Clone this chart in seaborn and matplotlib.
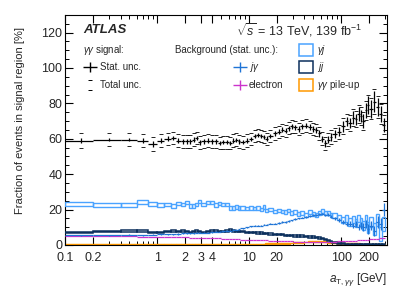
import numpy as np
import matplotlib
matplotlib.use("Agg")
import matplotlib.pyplot as plt
from matplotlib.patches import Rectangle
from matplotlib.ticker import MultipleLocator, LogLocator, FixedLocator, NullFormatter
import seaborn as sns

# bin edges in a_T,gg [GeV]
edges = [0.1, 0.2, 0.4, 0.6, 0.8, 1.0,
         1.2, 1.4, 1.6, 1.8, 2.0, 2.2, 2.4, 2.6, 2.8, 3.0,
         3.4, 3.8, 4.2, 4.6, 5.0,
         5.5, 6.0, 6.5, 7.0, 7.5, 8.0,
         9, 10,
         11, 12, 13, 14, 15, 16,
         18, 20, 22, 24, 26, 28, 30,
         33, 36,
         40, 44, 48, 52, 56, 60,
         65, 70, 75, 80,
         90, 100,
         110, 120, 130, 140, 150, 160, 170, 180, 190, 200,
         220, 240, 260, 280, 300]

# gamma-gamma signal fraction [%]
signal = [59, 59.5, 59.5, 59, 57,
          59, 60, 60.5, 59, 58.5, 58.5, 58.5, 59.5, 60.5, 58,
          58.5, 59, 58.5, 58.5, 57.5,
          58, 58, 57.5, 59, 59.5, 58.5,
          58, 59,
          60, 61.5, 62, 61.5, 61, 60,
          61.5, 63, 64, 65, 64.5, 66, 67,
          66.5, 65.5,
          67, 67.5, 66.5, 65.5, 65, 63,
          60, 57.5, 59.5, 61,
          62.5, 64,
          67, 70, 69, 72, 71, 74, 73, 70, 76, 79,
          77, 81, 78, 74, 68]
signal_stat = [1.2, 1.0, 1.0, 1.2, 1.5,
               1.3, 1.3, 1.3, 1.3, 1.3, 1.3, 1.3, 1.3, 1.3, 1.3,
               1.2, 1.2, 1.2, 1.2, 1.2,
               1.2, 1.2, 1.2, 1.2, 1.2, 1.2,
               1.2, 1.2,
               1.2, 1.2, 1.2, 1.3, 1.3, 1.3,
               1.3, 1.3, 1.3, 1.4, 1.4, 1.4, 1.4,
               1.5, 1.5,
               1.5, 1.6, 1.6, 1.7, 1.7, 1.8,
               1.8, 1.9, 2.0, 2.0,
               2.2, 2.4,
               3.0, 2.5, 3.0, 3.5, 3.0, 4.0, 3.5, 4.0, 4.5, 5.0,
               5.0, 6.0, 5.0, 4.5, 4.0]
signal_tot = [4.0, 3.8, 3.8, 3.8, 3.8,
              3.5, 3.5, 3.5, 3.5, 3.5, 3.5, 3.5, 3.5, 3.5, 3.5,
              3.5, 3.5, 3.5, 3.5, 3.5,
              3.5, 3.5, 3.5, 3.5, 3.5, 3.5,
              3.5, 3.5,
              3.5, 3.5, 3.5, 3.5, 3.5, 3.5,
              3.5, 3.5, 3.5, 3.5, 3.5, 3.5, 3.5,
              3.5, 3.5,
              3.5, 3.5, 3.5, 3.5, 3.5, 3.5,
              3.6, 3.6, 3.7, 3.7,
              3.8, 4.0,
              4.5, 4.2, 4.5, 5.0, 4.5, 5.2, 5.0, 5.2, 5.6, 6.0,
              6.0, 7.0, 6.0, 5.6, 5.2]

# gamma-jet background (open light-blue boxes)
gj = [23, 22.5, 22.5, 24.5, 23,
      22.5, 23, 22, 23.5, 23, 24, 22, 22, 23, 24.5,
      23, 24, 24, 22.5, 23.5,
      23, 23, 21, 21, 21.5, 21,
      21, 20.5,
      21, 20.5, 21, 20, 21.5, 19.5,
      20, 19, 19.5, 19, 18.5, 19.5, 18,
      18.5, 17.5,
      18, 17, 18.5, 17.5, 17, 18,
      19, 18, 18, 17,
      16.5, 15.5,
      14, 15, 13, 14.5, 12.5, 15, 13, 11, 14, 10,
      13, 9, 14, 6, 12]
gj_stat = [1.2, 1.0, 1.0, 1.1, 1.2,
           1.0, 1.0, 1.0, 1.0, 1.0, 1.0, 1.0, 1.0, 1.0, 1.0,
           1.0, 1.0, 1.0, 1.0, 1.0,
           1.0, 1.0, 1.0, 1.0, 1.0, 1.0,
           1.0, 1.0,
           1.0, 1.0, 1.0, 1.0, 1.0, 1.0,
           1.0, 1.0, 1.0, 1.0, 1.0, 1.0, 1.0,
           1.0, 1.0,
           1.0, 1.0, 1.0, 1.0, 1.0, 1.1,
           1.1, 1.2, 1.2, 1.3,
           1.4, 1.5,
           1.8, 1.8, 2.0, 2.0, 2.2, 2.2, 2.5, 2.5, 2.8, 3.0,
           3.0, 3.5, 3.5, 4.0, 4.0]

# jet-gamma background (blue crosses)
jg = [5.5, 5.5, 5.8, 5.5, 5.8,
      6, 6, 6, 6.2, 6.5, 6.5, 6.5, 6.5, 6.8, 7,
      7, 7, 7.2, 7.5, 7.5,
      7.8, 8, 8, 8.5, 8.5, 9,
      9.5, 10,
      10.5, 10.8, 11, 11, 11.5, 11.5,
      12, 12, 12.5, 13, 13, 13.5, 14,
      14.5, 15,
      15.5, 16, 16.5, 17, 17, 17.5,
      17.5, 17, 17, 16,
      15, 14,
      13, 12, 12, 11, 12, 10, 11, 10, 12, 9,
      11, 8, 13, 12, 20]
jg_stat = [0.4, 0.3, 0.3, 0.3, 0.3,
           0.3, 0.3, 0.3, 0.3, 0.3, 0.3, 0.3, 0.3, 0.3, 0.3,
           0.3, 0.3, 0.3, 0.3, 0.3,
           0.3, 0.3, 0.3, 0.3, 0.3, 0.3,
           0.3, 0.3,
           0.3, 0.3, 0.3, 0.3, 0.3, 0.3,
           0.4, 0.4, 0.4, 0.4, 0.4, 0.4, 0.4,
           0.5, 0.5,
           0.5, 0.5, 0.5, 0.6, 0.6, 0.6,
           0.7, 0.7, 0.8, 0.8,
           0.9, 1.0,
           1.2, 1.2, 1.4, 1.4, 1.6, 1.8, 2.0, 2.2, 2.4, 2.6,
           2.8, 3.0, 3.2, 3.5, 3.5]

# dijet background (dark boxes)
jj = [7, 7.5, 8, 7.8, 7,
      7.2, 7.5, 8, 7.5, 7.8, 7.5, 7, 7.5, 8, 7.5,
      7.2, 7.5, 7.8, 8, 7.5,
      7.5, 8, 8.5, 8, 7.5, 7.5,
      7.5, 7,
      7, 7, 6.8, 6.8, 6.5, 6.5,
      6.3, 6, 6, 5.8, 5.5, 5.5, 5.2,
      5, 5,
      5, 4.8, 4.5, 4.5, 4.2, 4,
      3.5, 3, 2.5, 2,
      1.5, 1.0,
      0.7, 0.5, 0.5, 0.4, 0.4, 0.4, 0.4, 0.3, 0.3, 0.3,
      0.3, 0.2, 0.2, 0.2, 0.2]
jj_stat = [0.5, 0.4, 0.4, 0.4, 0.4,
           0.4, 0.4, 0.4, 0.4, 0.4, 0.4, 0.4, 0.4, 0.4, 0.4,
           0.4, 0.4, 0.4, 0.4, 0.4,
           0.4, 0.4, 0.4, 0.4, 0.4, 0.4,
           0.4, 0.4,
           0.4, 0.4, 0.4, 0.4, 0.4, 0.4,
           0.4, 0.4, 0.4, 0.4, 0.4, 0.4, 0.4,
           0.4, 0.4,
           0.4, 0.4, 0.4, 0.4, 0.4, 0.4,
           0.3, 0.3, 0.3, 0.3,
           0.3, 0.3,
           0.3, 0.3, 0.3, 0.3, 0.3, 0.3, 0.3, 0.3, 0.3, 0.3,
           0.3, 0.3, 0.3, 0.3, 0.3]

# electron background (magenta crosses)
electron = [5, 4.9, 4.8, 4.7, 4.6,
            4.5, 4.5, 4.4, 4.4, 4.3, 4.3, 4.2, 4.2, 4.1, 4.1,
            4.0, 3.9, 3.9, 3.8, 3.7,
            3.6, 3.5, 3.5, 3.4, 3.3, 3.2,
            3.1, 3.0,
            2.9, 2.8, 2.8, 2.7, 2.6, 2.6,
            2.5, 2.4, 2.3, 2.2, 2.1, 2.0, 2.0,
            1.9, 1.8,
            1.8, 1.7, 1.7, 1.6, 1.6, 1.6,
            1.6, 1.7, 1.7, 1.8,
            1.9, 2.0,
            2.1, 2.2, 2.3, 2.3, 2.5, 2.6, 2.6, 2.8, 3.0, 3.1,
            3.3, 3.5, 3.5, 3.8, 4.0]

# gamma-gamma pile-up (orange boxes)
pileup = [0.3, 0.3, 0.3, 0.3, 0.3,
          0.3, 0.3, 0.3, 0.3, 0.3, 0.3, 0.3, 0.3, 0.3, 0.3,
          0.3, 0.3, 0.3, 0.3, 0.3,
          0.3, 0.3, 0.3, 0.3, 0.3, 0.3,
          0.3, 0.4,
          0.4, 0.4, 0.5, 0.5, 0.5, 0.6,
          0.6, 0.7, 0.7, 0.8, 0.9, 1.0, 1.1,
          1.2, 1.3,
          1.5, 1.7, 1.9, 2.0, 2.1, 2.1,
          2.0, 1.8, 1.6, 1.4,
          1.2, 1.0,
          0.9, 0.8, 0.7, 0.7, 0.6, 0.6, 0.5, 0.5, 0.5, 0.4,
          0.4, 0.4, 0.3, 0.3, 0.3]

c_gj = "#4aa3ff"
c_jg = "#1f74d6"
c_jj = "#0b2f5c"
c_el = "#cc33cc"
c_pu = "#ff9900"

sns.set_theme(style="ticks")
plt.rcParams["font.family"] = ["Liberation Sans", "DejaVu Sans"]
plt.rcParams["mathtext.fontset"] = "custom"
plt.rcParams["mathtext.rm"] = "Liberation Sans"
plt.rcParams["mathtext.it"] = "Liberation Sans:italic"
plt.rcParams["mathtext.bf"] = "Liberation Sans:bold"

e = np.array(edges, dtype=float)
lo, hi = e[:-1], e[1:]
xc = 0.5 * (lo + hi)
xerr = [xc - lo, hi - xc]

fig = plt.figure(figsize=(4.07, 2.92), dpi=100)
ax = fig.add_axes([0.160, 0.161, 0.791, 0.788])


def boxes(val, err, color, lw=1.0, z=2):
    val = np.array(val, dtype=float)
    err = np.array(err, dtype=float)
    ax.bar(lo, 2 * err, width=hi - lo, bottom=val - err, align="edge",
           fill=False, edgecolor=color, linewidth=lw, zorder=z)


boxes(pileup, [0.25] * len(pileup), c_pu, lw=1.0, z=2)
boxes(jj, jj_stat, c_jj, lw=1.1, z=3)
boxes(gj, gj_stat, c_gj, lw=1.0, z=3)

ax.errorbar(xc, electron, xerr=xerr, fmt="none", ecolor=c_el, elinewidth=0.9, zorder=4)
ax.errorbar(xc, jg, xerr=xerr, yerr=jg_stat, fmt="none", ecolor=c_jg, elinewidth=0.9, zorder=4)

sig = np.array(signal, dtype=float)
tot = np.array(signal_tot, dtype=float)
ax.errorbar(xc, sig, xerr=xerr, yerr=signal_stat, fmt="none", ecolor="black", elinewidth=0.9, zorder=5)
ax.plot(xc, sig + tot, ls="none", marker="_", ms=2.2, mew=0.6, color="black", zorder=5)
ax.plot(xc, sig - tot, ls="none", marker="_", ms=2.2, mew=0.6, color="black", zorder=5)

ax.set_xscale("log")
ax.set_xlim(0.1, 316)
ax.set_ylim(0, 130)
ax.yaxis.set_major_locator(MultipleLocator(20))
ax.yaxis.set_minor_locator(MultipleLocator(5))
ax.xaxis.set_major_locator(FixedLocator([0.1, 0.2, 1, 2, 3, 4, 10, 20, 100, 200]))
ax.xaxis.set_minor_locator(LogLocator(base=10, subs=np.arange(2, 10) * 1.0, numticks=20))
ax.xaxis.set_minor_formatter(NullFormatter())
ax.set_xticklabels(["0.1", "0.2", "1", "2", "3", "4", "10", "20", "100", "200"])
ax.tick_params(which="both", direction="in", top=True, right=True, labelsize=9, color="black")
ax.tick_params(which="major", length=6, width=0.8)
ax.tick_params(axis="x", which="major", pad=5)
ax.tick_params(axis="y", which="major", pad=2)
ax.tick_params(which="minor", length=3, width=0.7)
for s in ax.spines.values():
    s.set_linewidth(0.8)
    s.set_color("black")

ax.set_ylabel("Fraction of events in signal region [%]", fontsize=8)
ax.yaxis.set_label_coords(-0.125, 0.54)
ax.set_xlabel(r"$a_{\mathrm{T},\gamma\gamma}$ [GeV]", fontsize=8.5, loc="right", labelpad=5)

T = ax.transAxes
ax.text(0.056, 0.935, "ATLAS", transform=T, fontsize=9.5, fontweight="bold", style="italic", va="center")
ax.text(0.925, 0.935, r"$\sqrt{s}$ = 13 TeV, 139 fb$^{-1}$", transform=T, fontsize=9, ha="right", va="center")
ax.text(0.056, 0.848, r"$\gamma\gamma$ signal:", transform=T, fontsize=7, va="center")
ax.text(0.342, 0.848, "Background (stat. unc.):", transform=T, fontsize=7, va="center")

# legend markers
ax.errorbar([0.078], [0.774], xerr=[0.022], yerr=[0.022], fmt="none", ecolor="black", elinewidth=1.0, transform=T)
ax.text(0.109, 0.774, "Stat. unc.", transform=T, fontsize=7, va="center")
ax.plot([0.078, 0.078], [0.718, 0.674], ls="none", marker="_", ms=2.5, mew=0.7, color="black", transform=T)
ax.text(0.109, 0.696, "Total unc.", transform=T, fontsize=7, va="center")

ax.errorbar([0.543], [0.774], xerr=[0.022], yerr=[0.022], fmt="none", ecolor=c_jg, elinewidth=1.0, transform=T)
ax.text(0.571, 0.774, r"$j\gamma$", transform=T, fontsize=7, va="center")
ax.errorbar([0.543], [0.696], xerr=[0.022], yerr=[0.022], fmt="none", ecolor=c_el, elinewidth=1.0, transform=T)
ax.text(0.571, 0.696, "electron", transform=T, fontsize=7, va="center")

for yy, col, lab in [(0.848, c_gj, r"$\gamma j$"), (0.774, c_jj, r"$jj$"), (0.696, c_pu, r"$\gamma\gamma$ pile-up")]:
    ax.add_patch(Rectangle((0.727, yy - 0.025), 0.042, 0.05, transform=T, fill=False,
                           edgecolor=col, linewidth=1.1))
    ax.text(0.782, yy, lab, transform=T, fontsize=7, va="center")

fig.savefig("out.png", dpi=100)
